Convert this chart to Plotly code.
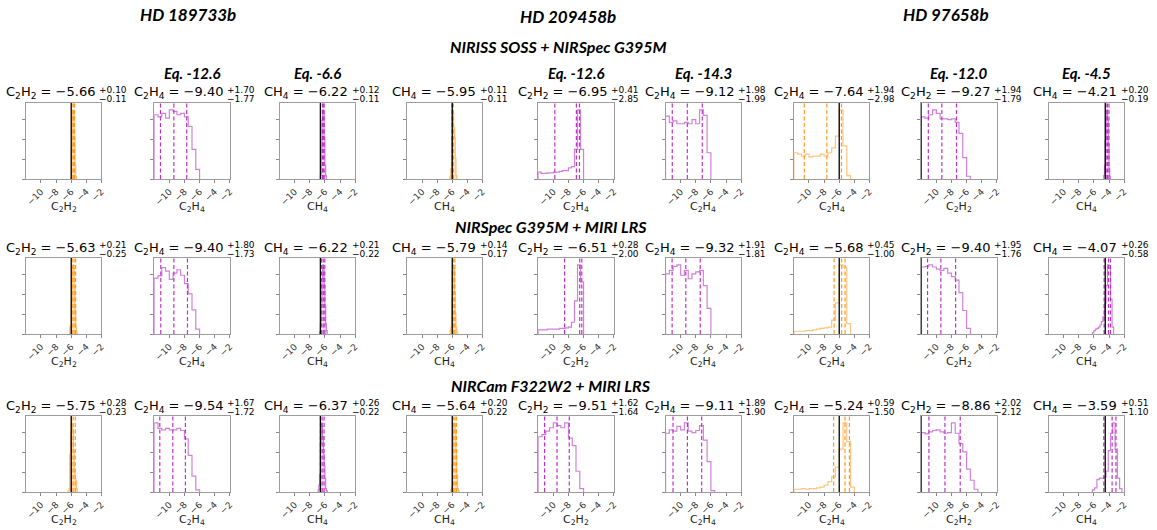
import plotly.graph_objects as go

W, H = 1157, 530

planets = ["HD 189733b", "HD 209458b", "HD 97658b"]
setups = ["NIRISS SOSS + NIRSpec G395M", "NIRSpec G395M + MIRI LRS", "NIRCam F322W2 + MIRI LRS"]

# species shown in the panel titles and under the x axes
title_species = [
    ["C2H2", "C2H4", "CH4", "CH4", "C2H2", "C2H4", "C2H4", "C2H2", "CH4"],
    ["C2H2", "C2H4", "CH4", "CH4", "C2H2", "C2H4", "C2H4", "C2H2", "CH4"],
    ["C2H2", "C2H4", "CH4", "CH4", "C2H2", "C2H4", "C2H4", "C2H2", "CH4"],
]
axis_species = [
    ["C2H2", "C2H4", "CH4", "CH4", "C2H4", "C2H4", "C2H4", "C2H2", "CH4"],
    ["C2H2", "C2H4", "CH4", "CH4", "C2H2", "C2H4", "C2H4", "C2H2", "CH4"],
    ["C2H2", "C2H4", "CH4", "CH4", "C2H2", "C2H4", "C2H4", "C2H2", "CH4"],
]

# retrieved log abundances: median, +err, -err
medians = [
    [-5.66, -9.40, -6.22, -5.95, -6.95, -9.12, -7.64, -9.27, -4.21],
    [-5.63, -9.40, -6.22, -5.79, -6.51, -9.32, -5.68, -9.40, -4.07],
    [-5.75, -9.54, -6.37, -5.64, -9.51, -9.11, -5.24, -8.86, -3.59],
]
err_up = [
    [0.10, 1.70, 0.12, 0.11, 0.41, 1.98, 1.94, 1.94, 0.20],
    [0.21, 1.80, 0.21, 0.14, 0.28, 1.91, 0.45, 1.95, 0.26],
    [0.28, 1.67, 0.26, 0.20, 1.62, 1.89, 0.59, 2.02, 0.51],
]
err_lo = [
    [0.11, 1.77, 0.11, 0.11, 2.85, 1.99, 2.98, 1.79, 0.19],
    [0.25, 1.73, 0.22, 0.17, 2.00, 1.81, 1.00, 1.76, 0.58],
    [0.23, 1.72, 0.22, 0.22, 1.64, 1.90, 1.50, 2.12, 1.10],
]

# reference (black) values per column and equilibrium labels
ref_values = [-6.0, -12.6, -6.6, -6.0, -12.6, -14.3, -6.0, -12.0, -4.5]
eq_labels = [None, "Eq. -12.6", "Eq. -6.6", None, "Eq. -12.6", "Eq. -14.3", None, "Eq. -12.0", "Eq. -4.5"]

# posterior histograms: first bin edge, bin width, relative heights
hist_start = [
    [-6.1, -12, -6.6, -6.3, -12, -12, -12, -12, -4.7],
    [-6.2, -12, -6.7, -6.3, -12, -12, -12, -12, -6.2],
    [-6.4, -12, -6.9, -6.2, -12, -12, -12, -12, -6.2],
]
hist_width = [
    [0.1, 0.5, 0.1, 0.1, 0.4, 0.5, 0.5, 0.5, 0.1],
    [0.1, 0.5, 0.1, 0.1, 0.4, 0.5, 0.5, 0.5, 0.2],
    [0.1, 0.5, 0.1, 0.1, 0.5, 0.5, 0.5, 0.5, 0.3],
]
hist_heights = [
    [
        [0.02, 0.4, 0.9, 1.0, 0.95, 0.6, 0.2, 0.03],
        [0.93, 0.90, 0.95, 0.88, 1.0, 0.98, 0.93, 0.95, 0.90, 0.76, 0.43, 0.14],
        [0.05, 0.45, 0.85, 1.0, 0.95, 0.6, 0.2, 0.05],
        [0.03, 0.15, 0.6, 1.0, 0.95, 0.75, 0.6, 0.3, 0.05],
        [0.10, 0.08, 0.08, 0.09, 0.09, 0.10, 0.10, 0.11, 0.12, 0.12, 0.16, 0.18, 0.43, 1.0, 0.43],
        [0.91, 0.82, 0.84, 0.80, 0.80, 0.82, 0.80, 0.86, 0.80, 1.0, 0.92, 0.38],
        [0.38, 0.36, 0.33, 0.36, 0.32, 0.33, 0.33, 0.36, 0.33, 0.38, 0.45, 0.62, 1.0, 0.48, 0.05],
        [0.90, 0.88, 0.93, 1.0, 0.95, 0.87, 0.87, 0.86, 0.87, 0.82, 0.66, 0.31, 0.04],
        [0.05, 0.2, 0.55, 0.9, 1.0, 0.85, 0.5, 0.15, 0.03],
    ],
    [
        [0.1, 0.12, 0.45, 0.9, 1.0, 0.95, 0.7, 0.35, 0.1, 0.02],
        [0.81, 0.84, 0.96, 0.91, 0.79, 0.88, 0.93, 0.85, 0.73, 0.58, 0.35, 0.07],
        [0.03, 0.15, 0.4, 0.8, 1.0, 0.95, 0.7, 0.4, 0.15, 0.05],
        [0.05, 0.1, 0.5, 0.9, 1.0, 0.95, 0.6, 0.3, 0.1, 0.02],
        [0.06, 0.06, 0.06, 0.07, 0.07, 0.07, 0.07, 0.08, 0.08, 0.09, 0.10, 0.17, 0.48, 1.0, 0.75],
        [0.87, 0.92, 0.98, 1.0, 0.85, 0.92, 0.80, 0.87, 0.90, 0.92, 0.70, 0.37],
        [0.04, 0.04, 0.04, 0.05, 0.05, 0.06, 0.07, 0.08, 0.09, 0.10, 0.20, 0.45, 1.0, 0.97, 0.15],
        [0.97, 0.98, 1.0, 0.97, 0.94, 0.92, 0.95, 0.88, 0.83, 0.78, 0.60, 0.34, 0.08],
        [0.02, 0.05, 0.07, 0.08, 0.10, 0.13, 0.18, 0.25, 0.45, 0.70, 1.0, 0.95, 0.5, 0.1],
    ],
    [
        [0.02, 0.05, 0.55, 0.86, 1.0, 0.98, 0.9, 0.6, 0.3, 0.19, 0.17, 0.05],
        [1.0, 0.92, 0.90, 0.92, 0.90, 0.90, 0.92, 0.89, 0.77, 0.53, 0.23, 0.03],
        [0.03, 0.1, 0.26, 0.7, 1.0, 0.95, 0.8, 0.55, 0.37, 0.2, 0.05, 0.02],
        [0.03, 0.08, 0.4, 0.85, 1.0, 0.98, 0.9, 0.6, 0.25, 0.05, 0.02],
        [0.80, 0.83, 0.88, 0.93, 1.0, 0.96, 0.93, 1.0, 0.78, 0.67, 0.30, 0.05],
        [0.85, 0.90, 0.88, 0.95, 0.90, 1.0, 0.88, 0.86, 0.89, 0.96, 0.75, 0.44, 0.02],
        [0.04, 0.04, 0.05, 0.04, 0.05, 0.05, 0.06, 0.07, 0.10, 0.15, 0.22, 0.36, 0.62, 1.0, 0.73, 0.07],
        [0.86, 0.84, 0.87, 0.89, 0.90, 0.87, 0.85, 0.86, 1.0, 0.85, 0.70, 0.58, 0.33, 0.17, 0.04],
        [0.03, 0.06, 0.18, 0.2, 0.2, 0.22, 0.3, 0.6, 0.85, 1.0, 0.62, 0.2, 0.05],
    ],
]

x_ticks = [-10, -8, -6, -4, -2]

# panel placement in pixels
col_left = [25, 154, 280, 408, 540, 668, 797, 925, 1053]
row_top = [103, 258, 416]
pw, ph = 76, 76

html = {"C2H2": "C<sub>2</sub>H<sub>2</sub>", "C2H4": "C<sub>2</sub>H<sub>4</sub>", "CH4": "CH<sub>4</sub>"}
ORANGE = dict(step="rgba(255,150,20,0.55)", fill="rgba(255,170,60,0.35)", dash="#ff9a1a")
PURPLE = dict(step="rgba(185,60,200,0.65)", fill="rgba(200,110,215,0.25)", dash="#c030c8")
TITLE_FONT = "DejaVu Sans"
HEAD_FONT = "Lato"


def num(v):
    return f"{v:.2f}".replace("-", "\u2212")


def px_x(x):
    return x / W


def px_y(y):
    return 1 - y / H


fig = go.Figure()
annotations = []
shapes = []

for r in range(3):
    for c in range(9):
        k = r * 9 + c + 1
        xa = "x" if k == 1 else f"x{k}"
        ya = "y" if k == 1 else f"y{k}"
        pal = ORANGE if c % 3 == 0 else PURPLE
        left, top = col_left[c], row_top[r]

        fig.layout[f"xaxis{'' if k == 1 else k}"] = dict(
            domain=[px_x(left), px_x(left + pw)], anchor=ya, range=[-12, -2],
            tickvals=x_ticks, tickangle=-45, ticks="outside", ticklen=3,
            tickcolor="#888", tickfont=dict(family=TITLE_FONT, size=9, color="#333"),
            showline=True, mirror=True, linecolor="#9c9c9c", linewidth=1,
            showgrid=False, zeroline=False, fixedrange=True)
        fig.layout[f"yaxis{'' if k == 1 else k}"] = dict(
            domain=[px_y(top + ph), px_y(top)], anchor=xa, range=[0, 1.1],
            showticklabels=False, ticks="outside", ticklen=3, tickcolor="#888",
            tick0=0, dtick=0.286, showline=True, mirror=True, linecolor="#9c9c9c",
            linewidth=1, showgrid=False, zeroline=False, fixedrange=True)

        # step histogram
        h = hist_heights[r][c]
        edges = [hist_start[r][c] + i * hist_width[r][c] for i in range(len(h) + 1)]
        narrow = err_up[r][c] + err_lo[r][c] < 0.7
        fig.add_trace(go.Scatter(
            x=[edges[0]] + edges, y=[0] + h + [0], mode="lines", line_shape="hv",
            line=dict(color=pal["step"], width=1.2),
            fill="tozeroy" if narrow else None, fillcolor=pal["fill"],
            xaxis=xa, yaxis=ya, showlegend=False, hoverinfo="skip"))

        # quantile lines
        med = medians[r][c]
        for q in (med - err_lo[r][c], med, med + err_up[r][c]):
            shapes.append(dict(type="line", xref=xa, yref=f"{ya} domain", x0=q, x1=q, y0=0, y1=1,
                               line=dict(color=pal["dash"], width=1.2, dash="4px,2.5px")))
        ref = ref_values[c]
        if -12 <= ref <= -2:
            shapes.append(dict(type="line", xref=xa, yref=f"{ya} domain", x0=ref, x1=ref, y0=0, y1=1,
                               line=dict(color="black", width=1.3)))

        # title: species = median with errors
        cx = px_x(left + pw / 2)
        annotations.append(dict(
            x=cx, y=px_y(top - 10), xref="paper", yref="paper", xanchor="right", yanchor="middle",
            xshift=33, showarrow=False,
            text=f"{html[title_species[r][c]]} = {num(med)}",
            font=dict(family=TITLE_FONT, size=13, color="black")))
        annotations.append(dict(
            x=cx, y=px_y(top - 13), xref="paper", yref="paper", xanchor="left", yanchor="middle",
            xshift=33, showarrow=False, text="+" + num(err_up[r][c]),
            font=dict(family=TITLE_FONT, size=9, color="black")))
        annotations.append(dict(
            x=cx, y=px_y(top - 4), xref="paper", yref="paper", xanchor="left", yanchor="middle",
            xshift=33, showarrow=False, text=num(-err_lo[r][c]),
            font=dict(family=TITLE_FONT, size=9, color="black")))

        # x label
        annotations.append(dict(
            x=cx, y=px_y(top + ph + 28), xref="paper", yref="paper", xanchor="center",
            yanchor="middle", showarrow=False, text=html[axis_species[r][c]],
            font=dict(family=TITLE_FONT, size=11, color="#222")))

        if r == 0 and eq_labels[c]:
            annotations.append(dict(
                x=cx, y=px_y(top - 30), xref="paper", yref="paper", xanchor="center",
                yanchor="middle", showarrow=False, text=eq_labels[c],
                font=dict(family=HEAD_FONT, size=15, color="black", weight="bold", style="italic")))

planet_pos = [(188, 15), (570, 17), (950, 15)]
for name, (x, y) in zip(planets, planet_pos):
    annotations.append(dict(x=px_x(x), y=px_y(y), xref="paper", yref="paper", showarrow=False,
                            text=name, xanchor="center", yanchor="middle",
                            font=dict(family=HEAD_FONT, size=17, color="black", weight="bold", style="italic")))

setup_pos = [(560, 47), (553, 226), (553, 385)]
for name, (x, y) in zip(setups, setup_pos):
    annotations.append(dict(x=px_x(x), y=px_y(y), xref="paper", yref="paper", showarrow=False,
                            text=name, xanchor="center", yanchor="middle",
                            font=dict(family=HEAD_FONT, size=16, color="black", weight="bold", style="italic")))

fig.update_layout(
    width=W, height=H, margin=dict(l=0, r=0, t=0, b=0),
    paper_bgcolor="white", plot_bgcolor="white",
    annotations=annotations, shapes=shapes, showlegend=False)

fig.write_html("out.html", config={"displayModeBar": False},
               post_script="document.body.style.margin='0px';")
